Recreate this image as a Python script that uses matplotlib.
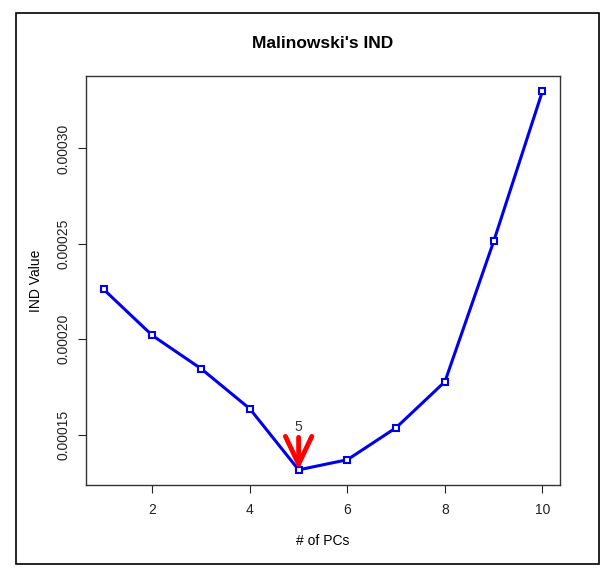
import numpy as np
import matplotlib.pyplot as plt
from matplotlib.patches import Rectangle

plt.rcParams['font.family'] = ['Liberation Sans', 'DejaVu Sans']

n_pcs = [1, 2, 3, 4, 5, 6, 7, 8, 9, 10]
ind_values = [0.0002262, 0.0002020, 0.0001846, 0.0001636, 0.0001316,
              0.0001369, 0.0001537, 0.0001778, 0.0002513, 0.0003300]
x_ticks = [2, 4, 6, 8, 10]
y_ticks = [0.00015, 0.00020, 0.00025, 0.00030]
y_ticklabels = ['0.00015', '0.00020', '0.00025', '0.00030']

fig = plt.figure(figsize=(6.14, 5.70), dpi=100)
ax = fig.add_axes([86 / 614, 1 - 485 / 570, (560 - 86) / 614, (485 - 76) / 570])

# outer frame round the whole figure
fig.patches.append(Rectangle((16 / 614, 1 - 564 / 570), (599 - 16) / 614, (564 - 13) / 570,
                             transform=fig.transFigure, fill=False, edgecolor='black', lw=1.2))

ax.plot(n_pcs, ind_values, color='#0000ee', lw=2.2, marker='s', ms=4.5,
        mfc='white', mec='#0000ee', mew=1.5)

# R style 4% padding
xr = max(n_pcs) - min(n_pcs)
ax.set_xlim(min(n_pcs) - 0.04 * xr, max(n_pcs) + 0.04 * xr)
yr = max(ind_values) - min(ind_values)
ax.set_ylim(min(ind_values) - 0.04 * yr, max(ind_values) + 0.04 * yr)

# arrow pointing at the minimum
best = int(np.argmin(ind_values))
bx, by = n_pcs[best], ind_values[best]
ax.annotate('', xy=(bx, by), xytext=(bx, by + 0.000017),
            arrowprops=dict(arrowstyle='->,head_length=2.0,head_width=0.95',
                            color='#ff0000', lw=3.5, mutation_scale=10,
                            shrinkA=0, shrinkB=0))
ax.text(bx, by + 0.000019, str(bx), ha='center', va='bottom', fontsize=10, color='#333333')

ax.set_xticks(x_ticks)
ax.set_yticks(y_ticks)
ax.set_yticklabels(y_ticklabels, rotation=90, va='center')
ax.tick_params(labelsize=10, length=6, colors='#222222', pad=7)
ax.tick_params(axis='y', pad=5)
for s in ax.spines.values():
    s.set_linewidth(1.0)
    s.set_color('#333333')

ax.set_title("Malinowski's IND", fontsize=12.5, fontweight='bold', pad=20)
ax.set_xlabel('# of PCs', fontsize=10, labelpad=12)
ax.set_ylabel('IND Value', fontsize=10, labelpad=10)

plt.savefig('out.png', dpi=100)
